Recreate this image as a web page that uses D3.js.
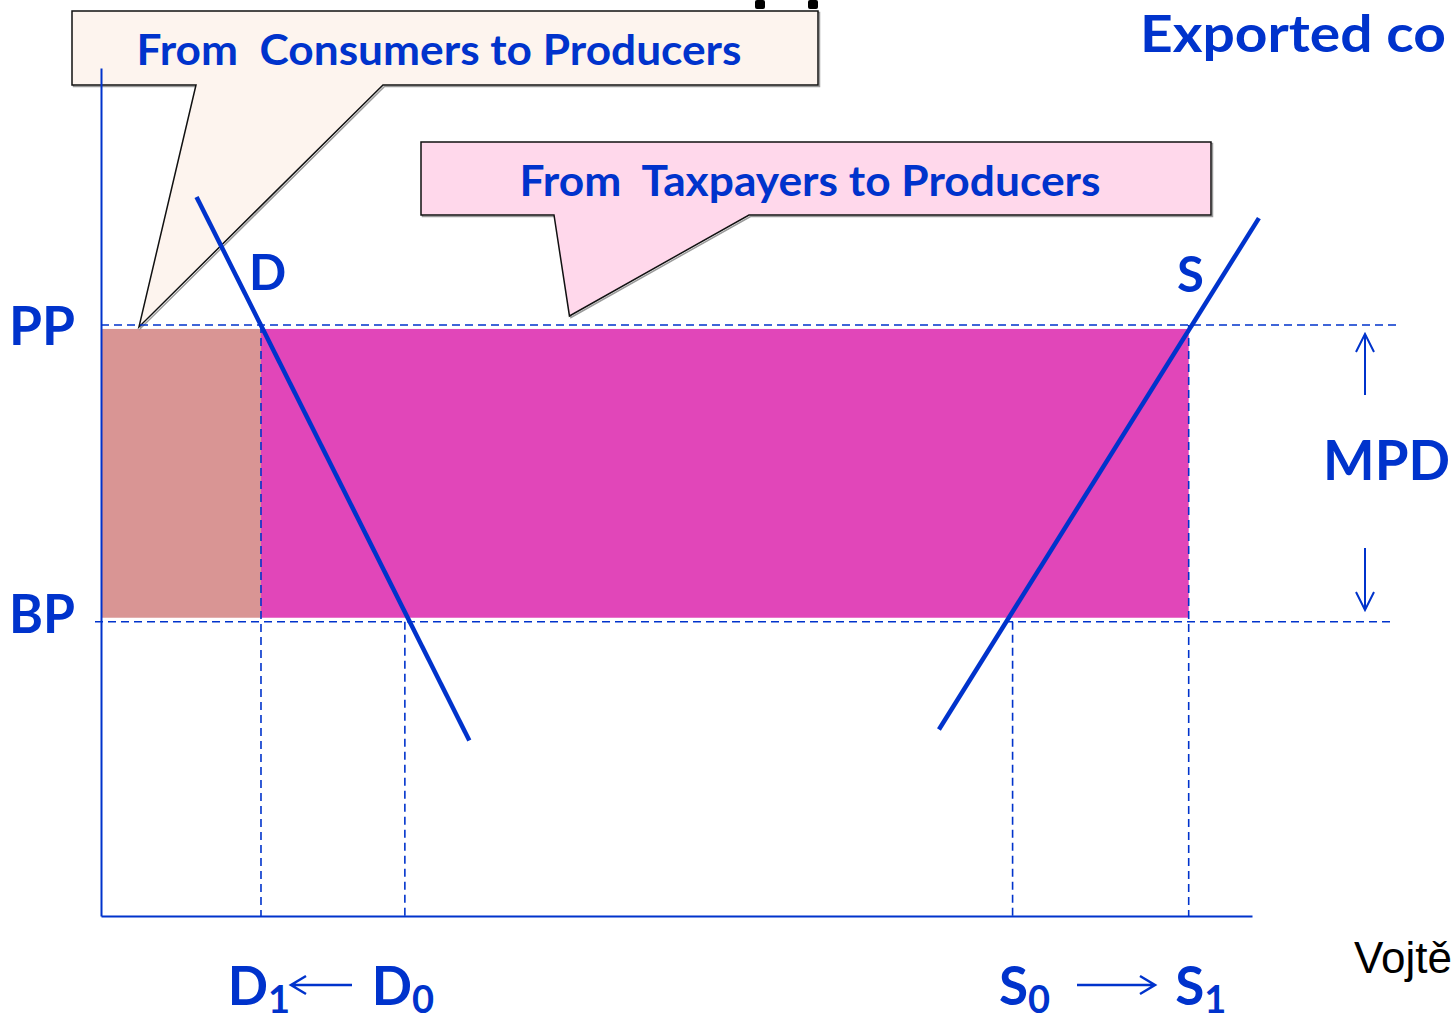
<!DOCTYPE html>
<html>
<head>
<meta charset="utf-8">
<script src="https://cdn.jsdelivr.net/npm/d3@7"></script>
<style>
  html, body { margin: 0; padding: 0; background: #fff; overflow: hidden; }
  svg { display: block; }
</style>
</head>
<body>
<svg width="1452" height="1022"></svg>
<script>
// price levels (PP = producer price, BP = border price)
const priceNames = ["PP", "BP"];
const priceValues = [69.7, 34.7];

// quantities on the x axis
const qtyLetters = ["D", "D", "S", "S"];
const qtySubs = ["1", "0", "0", "1"];
const qtyValues = [13.9, 26.4, 79.2, 94.5];
const qtyPrice = ["PP", "BP", "BP", "PP"];

// demand and supply lines [quantity, price]
const demandLine = [[8.3, 84.8], [32.0, 20.7]];
const supplyLine = [[72.8, 22.0], [100.6, 82.3]];

// transfer areas: from quantity, to quantity
const transferNames = ["consumers", "taxpayers"];
const transferFrom = [0, 13.9];
const transferTo = [13.9, 94.5];

const blue = "#0033CC";
const font = "Lato, 'Open Sans', sans-serif";

const svg = d3.select("svg");

const x = d3.scaleLinear().domain([0, 100]).range([101, 1252]);
const y = d3.scaleLinear().domain([0, 100]).range([916, 68]);

const price = {};
priceNames.forEach((n, i) => price[n] = priceValues[i]);

// filled transfer areas
const areaColors = { consumers: "#D99594", taxpayers: "#E146B9" };
svg.append("g").selectAll("rect")
  .data(transferNames)
  .join("rect")
    .attr("x", (d, i) => x(transferFrom[i]))
    .attr("y", y(price.PP) + 4)
    .attr("width", (d, i) => x(transferTo[i]) - x(transferFrom[i]))
    .attr("height", y(price.BP) - y(price.PP) - 8)
    .attr("fill", d => areaColors[d]);

// callouts
function callout(box, tail, tip, fill, text, textLen) {
  const g = svg.append("g");
  const p = d3.path();
  p.moveTo(box.x0, box.y0);
  p.lineTo(box.x1, box.y0);
  p.lineTo(box.x1, box.y1);
  p.lineTo(tail[1], box.y1);
  p.lineTo(tip[0], tip[1]);
  p.lineTo(tail[0], box.y1);
  p.lineTo(box.x0, box.y1);
  p.closePath();
  g.append("path").attr("d", p.toString())
    .attr("transform", "translate(1.5,1.5)")
    .attr("fill", "none").attr("stroke", "#9a9a9a").attr("stroke-width", 1.5);
  g.append("path").attr("d", p.toString())
    .attr("fill", fill).attr("stroke", "#111").attr("stroke-width", 1.5)
    .attr("stroke-linejoin", "miter");
  g.append("text")
    .attr("x", (box.x0 + box.x1) / 2 - 6 - textLen / 2)
    .attr("y", box.y0 + 54)
    .attr("font-family", font).attr("font-weight", "bold")
    .attr("font-size", 42).attr("fill", blue)
    .attr("textLength", textLen).attr("lengthAdjust", "spacingAndGlyphs")
    .attr("xml:space", "preserve")
    .text(text);
}
callout({ x0: 72, y0: 11, x1: 818, y1: 85 }, [196, 383], [x(3.3), y(price.PP) + 2],
  "#FDF4EE", "From  Consumers to Producers", 605);
callout({ x0: 421, y0: 142, x1: 1211, y1: 215 }, [554, 749], [x(40.7), y(price.PP) - 9],
  "#FFD8EB", "From  Taxpayers to Producers", 581);

// dashed price lines
const priceExtent = { PP: [101, 1397], BP: [95, 1390] };
svg.append("g").selectAll("line")
  .data(priceNames)
  .join("line")
    .attr("x1", d => priceExtent[d][0])
    .attr("x2", d => priceExtent[d][1])
    .attr("y1", d => y(price[d]))
    .attr("y2", d => y(price[d]))
    .attr("stroke", blue).attr("stroke-width", 1.6)
    .attr("stroke-dasharray", "8,5");

// dashed quantity drop lines
svg.append("g").selectAll("line")
  .data(qtyValues)
  .join("line")
    .attr("x1", d => x(d)).attr("x2", d => x(d))
    .attr("y1", (d, i) => y(price[qtyPrice[i]]))
    .attr("y2", y(0))
    .attr("stroke", blue).attr("stroke-width", 1.6)
    .attr("stroke-dasharray", "8,5");

// axes without ticks
const xAxis = svg.append("g")
  .attr("transform", `translate(0,${y(0)})`)
  .call(d3.axisBottom(x).tickValues([]).tickSizeOuter(0));
const yAxis = svg.append("g")
  .attr("transform", `translate(${x(0)},0)`)
  .call(d3.axisLeft(y).tickValues([]).tickSizeOuter(0));
[xAxis, yAxis].forEach(a => a.select(".domain").attr("stroke", blue).attr("stroke-width", 2));

// demand / supply
const line = d3.line().x(d => x(d[0])).y(d => y(d[1]));
svg.append("g").selectAll("path")
  .data([demandLine, supplyLine])
  .join("path")
    .attr("d", line)
    .attr("fill", "none")
    .attr("stroke", blue)
    .attr("stroke-width", 4.5);

// labels
function label(t, px, py, size, anchor) {
  return svg.append("text")
    .attr("x", px).attr("y", py)
    .attr("font-family", font).attr("font-weight", "bold")
    .attr("font-size", size).attr("fill", blue)
    .attr("text-anchor", anchor || "start")
    .text(t);
}
const priceLabelDy = { PP: 20, BP: 11 };
priceNames.forEach(n => label(n, 9, y(price[n]) + priceLabelDy[n], 53)
  .attr("textLength", 66).attr("lengthAdjust", "spacingAndGlyphs"));
label("D", 249, 290, 49);
label("S", 1177, 292, 49);
label("MPD", 1323, 480, 55).attr("textLength", 127).attr("lengthAdjust", "spacingAndGlyphs");

// MPD arrows
const mpdX = 1365;
svg.append("path")
  .attr("d", `M${mpdX},395 L${mpdX},334 M${mpdX - 9},352 L${mpdX},334 L${mpdX + 9},352`
    + ` M${mpdX},548 L${mpdX},610 M${mpdX - 9},592 L${mpdX},610 L${mpdX + 9},592`)
  .attr("fill", "none").attr("stroke", blue).attr("stroke-width", 2);

// quantity labels with subscripts
const qtyNudge = { D: -2, S: 12 };
qtyValues.forEach((v, i) => {
  const t = svg.append("text")
    .attr("x", x(v) + qtyNudge[qtyLetters[i]]).attr("y", 1005)
    .attr("font-family", font).attr("font-weight", "bold")
    .attr("fill", blue).attr("text-anchor", "middle");
  t.append("tspan").attr("font-size", 53).text(qtyLetters[i]);
  t.append("tspan").attr("font-size", 38).attr("dy", 8).text(qtySubs[i]);
});

// shift arrows
svg.append("path")
  .attr("d", `M352,985 L291,985 M306,976 L291,985 L306,994`
    + ` M1077,985 L1155,985 M1140,976 L1155,985 L1140,994`)
  .attr("fill", "none").attr("stroke", blue).attr("stroke-width", 2.5);

// title (runs to the right edge)
label("Exported co", 1140, 52, 52).attr("textLength", 306).attr("lengthAdjust", "spacingAndGlyphs");

// fragments of a glyph at the top edge
svg.append("g").selectAll("rect")
  .data([755, 808])
  .join("rect")
    .attr("x", d => d).attr("y", 0)
    .attr("width", 10).attr("height", 9)
    .attr("rx", 2)
    .attr("fill", "#000");

// author note, cut off
svg.append("text")
  .attr("x", 1354).attr("y", 973)
  .attr("font-family", "'Liberation Sans', Arial, sans-serif")
  .attr("font-size", 44).attr("fill", "#000")
  .text("Vojtě");
</script>
</body>
</html>
